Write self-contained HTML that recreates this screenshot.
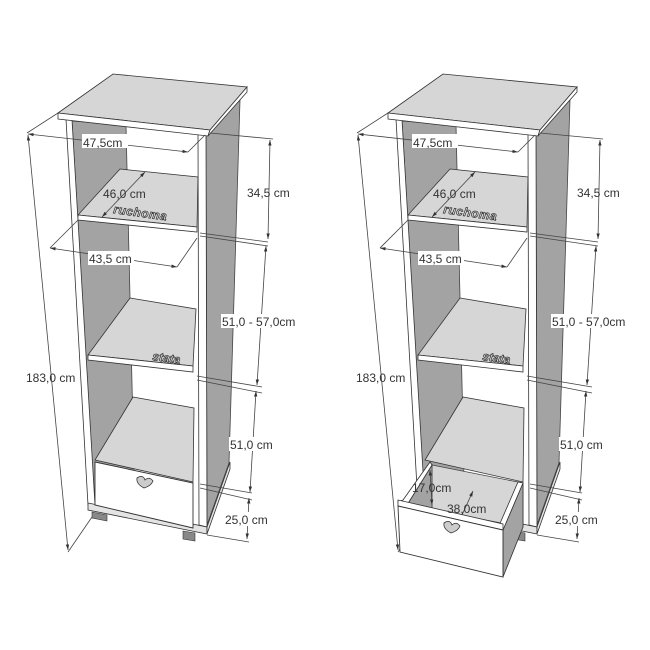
<!DOCTYPE html>
<html><head><meta charset="utf-8"><style>
html,body{margin:0;padding:0;background:#fff;}
svg{display:block;font-family:"Liberation Sans",sans-serif;}
</style></head><body>
<svg width="650" height="650" viewBox="0 0 650 650" xmlns="http://www.w3.org/2000/svg">
<defs>
<marker id="a" viewBox="0 0 10 10" refX="10" refY="5" markerWidth="7" markerHeight="7" orient="auto-start-reverse"><path d="M0,2 L10,5 L0,8 z" fill="#333"/></marker>
<g id="cab">
  <path d="M72,121 L126,125 L134,470 L94,502 Z" style="fill:#a3a3a3;stroke:#444;stroke-width:0.8"/>
  <polygon points="206,135 240,100 229,463 207,525" fill="#a3a3a3" stroke="#444" stroke-width="0.8"/>
  <polygon points="198,133 206,135 207,527 199,525" fill="#fff" stroke="#333" stroke-width="0.8"/>
  <polygon points="66,119 72,120 95,505 88,505" fill="#fff" stroke="#333" stroke-width="0.8"/>
  <polygon points="120,169 198,177 197,227 78,215" fill="#d6d6d6" stroke="#333" stroke-width="0.8"/>
  <polygon points="78,215 197,227 197,232 78,220" fill="#fff" stroke="#333" stroke-width="0.8"/>
  <polygon points="130,298 196,309 193,366 88,355" fill="#d6d6d6" stroke="#333" stroke-width="0.8"/>
  <polygon points="88,355 193,366 193,372 88,360" fill="#fff" stroke="#333" stroke-width="0.8"/>
  <polygon points="133,397 194,408 193,482 95,460" fill="#d6d6d6" stroke="#333" stroke-width="0.8"/>
  <polygon points="58,113 113,74 247,87 210,130" fill="#d6d6d6" stroke="#333" stroke-width="0.8"/>
  <polygon points="58,113 210,130 208,136 58,119" fill="#fff" stroke="#333" stroke-width="0.8"/>
  <polygon points="210,130 247,87 247,92 208,136" fill="#fff" stroke="#333" stroke-width="0.8"/>
  <polygon points="88,503 207,527 207,534 88,510" fill="#e4e4e4" stroke="#333" stroke-width="0.8"/>
  <polygon points="207,527 230,462 230,469 207,534" fill="#e4e4e4" stroke="#333" stroke-width="0.8"/>
  <polygon points="92,512 107,515 107,521 92,518" fill="#888" stroke="#333" stroke-width="0.6"/>
  <polygon points="183,531 195,533 195,541 183,539" fill="#888" stroke="#333" stroke-width="0.6"/>
  <text x="0" y="0" transform="translate(113,213) rotate(8)" font-size="12" font-style="italic" font-weight="bold" fill="#d6d6d6" stroke="#333" stroke-width="0.7" letter-spacing="0.5">ruchoma</text>
  <text x="0" y="0" transform="translate(152,360) rotate(8)" font-size="12" font-style="italic" font-weight="bold" fill="#d6d6d6" stroke="#333" stroke-width="0.7">stata</text>
  <g stroke="#444" stroke-width="0.8" fill="none">
    <line x1="27" y1="133" x2="58" y2="113"/>
    <line x1="68" y1="552" x2="92" y2="517"/>
    <line x1="28" y1="135" x2="68" y2="550" marker-start="url(#a)" marker-end="url(#a)"/>
    <line x1="28" y1="134" x2="188" y2="152" marker-start="url(#a)" marker-end="url(#a)"/>
    <line x1="188" y1="152" x2="205" y2="135"/>
    <line x1="145" y1="172" x2="102" y2="217" marker-start="url(#a)" marker-end="url(#a)"/>
    <line x1="50" y1="248" x2="177" y2="267" marker-start="url(#a)" marker-end="url(#a)"/>
    <line x1="50" y1="248" x2="78" y2="220"/>
    <line x1="177" y1="267" x2="197" y2="238"/>
    <line x1="210" y1="133" x2="273" y2="139"/>
    <line x1="200" y1="233" x2="268" y2="242"/>
    <line x1="200" y1="236" x2="268" y2="246"/>
    <line x1="197" y1="376" x2="262" y2="387"/>
    <line x1="197" y1="380" x2="262" y2="393"/>
    <line x1="200" y1="484" x2="252" y2="493"/>
    <line x1="200" y1="488" x2="252" y2="500"/>
    <line x1="207" y1="535" x2="249" y2="542"/>
    <line x1="270" y1="140" x2="268" y2="239" marker-start="url(#a)" marker-end="url(#a)"/>
    <line x1="266" y1="246" x2="257" y2="385" marker-start="url(#a)" marker-end="url(#a)"/>
    <line x1="256" y1="391" x2="250" y2="492" marker-start="url(#a)" marker-end="url(#a)"/>
    <line x1="249" y1="498" x2="247" y2="539" marker-start="url(#a)" marker-end="url(#a)"/>
  </g>
  <g font-size="12" fill="#333">
    <rect x="82" y="134" width="46" height="14" fill="#fff"/>
    <text x="83" y="147">47,5cm</text>
    <text x="103" y="198">46,0 cm</text>
    <rect x="88" y="251" width="46" height="14" fill="#fff"/>
    <text x="89" y="263">43,5 cm</text>
    <text x="26" y="382">183,0 cm</text>
    <text x="247" y="197">34,5 cm</text>
    <rect x="221" y="314" width="78" height="14" fill="#fff"/>
    <text x="222" y="326">51,0 - 57,0cm</text>
    <rect x="229" y="437" width="46" height="14" fill="#fff"/>
    <text x="230" y="449">51,0 cm</text>
    <rect x="224" y="512" width="46" height="14" fill="#fff"/>
    <text x="225" y="524">25,0 cm</text>
  </g>
</g>
</defs>
<use href="#cab"/>
<polygon points="95,462 193,483 193,528 95,505" fill="#fff" stroke="#333" stroke-width="0.9"/>
<path d="M137,478 q6,-4 8,2 q4,-4 8,1 q-2,5 -9,7 q-8,-4 -7,-10z" fill="#ccc" stroke="#333" stroke-width="0.8"/>
<g transform="translate(330,0)"><use href="#cab"/></g>
<polygon points="432,465 523,483 523,527 432,510" fill="#d6d6d6" stroke="#444" stroke-width="0.8"/>
<polygon points="407,505 432,465 432,510 410,540" fill="#a3a3a3" stroke="#444" stroke-width="0.8"/>
<polygon points="503,530 523,483 523,527 503,577" fill="#a3a3a3" stroke="#333" stroke-width="0.8"/>
<polygon points="523,483 518,482 498,528 503,530" fill="#fff" stroke="#333" stroke-width="0.8"/>
<polygon points="398,502 403,500 430,462 432,465 407,505" fill="#fff" stroke="#333" stroke-width="0.8"/>
<polygon points="398,500 503,524 503,530 398,506" fill="#fff" stroke="#333" stroke-width="0.8"/>
<polygon points="398,506 503,530 503,577 400,552" fill="#fff" stroke="#333" stroke-width="0.9"/>
<path d="M444,523 q6,-4 8,2 q4,-4 8,1 q-2,5 -9,7 q-8,-4 -7,-10z" fill="#ccc" stroke="#333" stroke-width="0.8"/>
<g stroke="#444" stroke-width="0.8">
  <line x1="430" y1="470" x2="432" y2="505" marker-start="url(#a)" marker-end="url(#a)"/>
  <line x1="473" y1="491" x2="462" y2="515" marker-start="url(#a)"/>
</g>
<g font-size="12" fill="#333">
  <text x="412" y="492">17,0cm</text>
  <text x="447" y="513">38,0cm</text>
</g>
</svg>
</body></html>
